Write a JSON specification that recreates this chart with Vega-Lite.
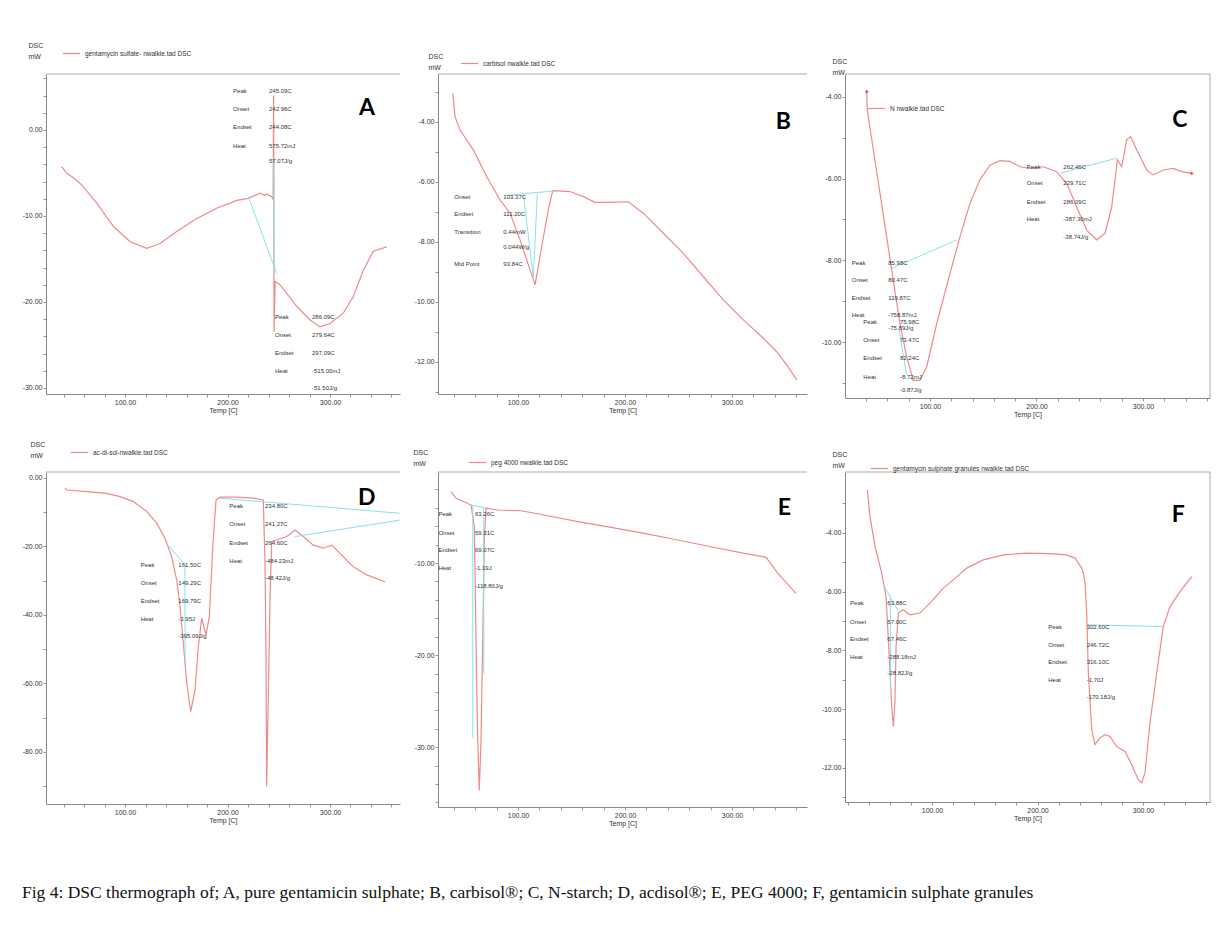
{
"$schema": "https://vega.github.io/schema/vega-lite/v6.json",
"background": "white",
"padding": {"left": 22, "top": 41, "right": 0, "bottom": 0},
"title": {"text": "Fig 4: DSC thermograph of; A, pure gentamicin sulphate; B, carbisol®; C, N-starch; D, acdisol®; E, PEG 4000; F, gentamicin sulphate granules", "orient": "bottom", "anchor": "start", "frame": "group", "font": "Liberation Serif", "fontSize": 17.5, "fontWeight": "normal", "color": "#111", "offset": 58, "dx": -24},
"columns": 3,
"spacing": {"row": 74, "column": 38},
"align": "each",
"bounds": "flush",
"resolve": {"scale": {"color": "independent"}, "legend": {"color": "independent"}},
"datasets": {
"curves": [
{"p":"A","T":38.2,"v":-4.27},{"p":"A","T":43.1,"v":-5.04},{"p":"A","T":50,"v":-5.6},{"p":"A","T":57.8,"v":-6.4},{"p":"A","T":72.4,"v":-8.5},{"p":"A","T":88.6,"v":-11.2},{"p":"A","T":104.9,"v":-13.0},{"p":"A","T":121.2,"v":-13.76},{"p":"A","T":134.1,"v":-13.2},{"p":"A","T":150.4,"v":-11.8},{"p":"A","T":170,"v":-10.3},{"p":"A","T":189.4,"v":-9.1},{"p":"A","T":209,"v":-8.2},{"p":"A","T":220.3,"v":-7.95},{"p":"A","T":231.7,"v":-7.36},{"p":"A","T":236,"v":-7.6},{"p":"A","T":238.2,"v":-7.48},{"p":"A","T":243.1,"v":-7.75},{"p":"A","T":244.5,"v":-8.1},{"p":"A","T":245.0,"v":4.0},{"p":"A","T":245.4,"v":-23.5},{"p":"A","T":246.5,"v":-17.6},{"p":"A","T":251.2,"v":-18.0},{"p":"A","T":257.8,"v":-19.0},{"p":"A","T":267.5,"v":-20.5},{"p":"A","T":280.5,"v":-22.1},{"p":"A","T":290.2,"v":-22.9},{"p":"A","T":300,"v":-22.5},{"p":"A","T":313,"v":-21.3},{"p":"A","T":322.7,"v":-19.4},{"p":"A","T":332.5,"v":-16.3},{"p":"A","T":342.2,"v":-14.1},{"p":"A","T":355.3,"v":-13.6},
{"p":"B","T":39.0,"v":-3.04},{"p":"B","T":41.1,"v":-3.82},{"p":"B","T":45.8,"v":-4.27},{"p":"B","T":58.2,"v":-4.93},{"p":"B","T":70.7,"v":-5.82},{"p":"B","T":83.2,"v":-6.6},{"p":"B","T":92.5,"v":-7.04},{"p":"B","T":101.9,"v":-7.93},{"p":"B","T":111.2,"v":-8.93},{"p":"B","T":115.9,"v":-9.43},{"p":"B","T":122.1,"v":-8.16},{"p":"B","T":128.3,"v":-6.93},{"p":"B","T":132.4,"v":-6.29},{"p":"B","T":148.6,"v":-6.32},{"p":"B","T":161,"v":-6.49},{"p":"B","T":172,"v":-6.68},{"p":"B","T":186,"v":-6.68},{"p":"B","T":203.1,"v":-6.66},{"p":"B","T":217.1,"v":-7.04},{"p":"B","T":235.8,"v":-7.71},{"p":"B","T":254.5,"v":-8.38},{"p":"B","T":273.2,"v":-9.16},{"p":"B","T":291.9,"v":-9.93},{"p":"B","T":310.6,"v":-10.6},{"p":"B","T":329.3,"v":-11.21},{"p":"B","T":341.8,"v":-11.66},{"p":"B","T":351.1,"v":-12.1},{"p":"B","T":360.5,"v":-12.6},
{"p":"C","T":40.6,"v":-3.87},{"p":"C","T":41.1,"v":-4.32},{"p":"C","T":46.8,"v":-5.3},{"p":"C","T":53.1,"v":-6.36},{"p":"C","T":59.3,"v":-7.42},{"p":"C","T":65.5,"v":-8.49},{"p":"C","T":71.8,"v":-9.55},{"p":"C","T":78.1,"v":-10.36},{"p":"C","T":84.3,"v":-10.94},{"p":"C","T":90.6,"v":-10.94},{"p":"C","T":96.9,"v":-10.61},{"p":"C","T":106.3,"v":-9.55},{"p":"C","T":118.8,"v":-8.32},{"p":"C","T":128.2,"v":-7.42},{"p":"C","T":137.6,"v":-6.6},{"p":"C","T":146.9,"v":-6.03},{"p":"C","T":156.3,"v":-5.67},{"p":"C","T":165.7,"v":-5.56},{"p":"C","T":175.1,"v":-5.58},{"p":"C","T":184.5,"v":-5.71},{"p":"C","T":193.9,"v":-5.75},{"p":"C","T":206.4,"v":-5.71},{"p":"C","T":218.9,"v":-5.83},{"p":"C","T":228.4,"v":-6.12},{"p":"C","T":237.7,"v":-6.69},{"p":"C","T":247.1,"v":-7.26},{"p":"C","T":256.5,"v":-7.5},{"p":"C","T":264.3,"v":-7.34},{"p":"C","T":270.6,"v":-6.69},{"p":"C","T":273.7,"v":-6.03},{"p":"C","T":275.9,"v":-5.54},{"p":"C","T":280,"v":-5.71},{"p":"C","T":284.7,"v":-5.05},{"p":"C","T":288.5,"v":-4.97},{"p":"C","T":294.1,"v":-5.3},{"p":"C","T":303.5,"v":-5.79},{"p":"C","T":309.7,"v":-5.91},{"p":"C","T":319.1,"v":-5.79},{"p":"C","T":328.5,"v":-5.75},{"p":"C","T":336.3,"v":-5.83},{"p":"C","T":345.7,"v":-5.87},
{"p":"D","T":41.5,"v":-3.0},{"p":"D","T":43.1,"v":-3.5},{"p":"D","T":62.6,"v":-4.0},{"p":"D","T":82.1,"v":-4.47},{"p":"D","T":95.1,"v":-5.45},{"p":"D","T":108.1,"v":-6.9},{"p":"D","T":121.2,"v":-9.8},{"p":"D","T":130.9,"v":-13.2},{"p":"D","T":139,"v":-17.6},{"p":"D","T":145.5,"v":-23},{"p":"D","T":150.4,"v":-29.8},{"p":"D","T":153.7,"v":-37.6},{"p":"D","T":156.9,"v":-48.3},{"p":"D","T":160.2,"v":-59.9},{"p":"D","T":164.1,"v":-68.2},{"p":"D","T":168.3,"v":-61.9},{"p":"D","T":171.5,"v":-49.3},{"p":"D","T":174.8,"v":-41.0},{"p":"D","T":179,"v":-45.8},{"p":"D","T":182.3,"v":-40.5},{"p":"D","T":185.6,"v":-20},{"p":"D","T":188.8,"v":-6.4},{"p":"D","T":192.7,"v":-5.6},{"p":"D","T":209,"v":-5.6},{"p":"D","T":225.2,"v":-5.9},{"p":"D","T":234.9,"v":-6.4},{"p":"D","T":236.6,"v":-24.9},{"p":"D","T":237.6,"v":-54.1},{"p":"D","T":238.2,"v":-90.1},{"p":"D","T":239.8,"v":-63.8},{"p":"D","T":241.5,"v":-34.7},{"p":"D","T":243.1,"v":-18.6},{"p":"D","T":248,"v":-18.1},{"p":"D","T":257.8,"v":-17.1},{"p":"D","T":265.9,"v":-15.2},{"p":"D","T":274,"v":-17.1},{"p":"D","T":283.7,"v":-19.6},{"p":"D","T":293.4,"v":-20.5},{"p":"D","T":301.6,"v":-19.6},{"p":"D","T":309.8,"v":-22},{"p":"D","T":322.7,"v":-25.9},{"p":"D","T":335.8,"v":-28.3},{"p":"D","T":353.7,"v":-30.3},
{"p":"E","T":37.4,"v":-2.25},{"p":"E","T":42.1,"v":-2.97},{"p":"E","T":49.8,"v":-3.34},{"p":"E","T":56.1,"v":-3.7},{"p":"E","T":59.2,"v":-6.05},{"p":"E","T":60.7,"v":-18.4},{"p":"E","T":62.3,"v":-29.2},{"p":"E","T":63.8,"v":-34.7},{"p":"E","T":65.4,"v":-29.2},{"p":"E","T":67,"v":-18.4},{"p":"E","T":68.5,"v":-7.5},{"p":"E","T":70.1,"v":-4.05},{"p":"E","T":81,"v":-4.24},{"p":"E","T":102.8,"v":-4.32},{"p":"E","T":124.6,"v":-4.78},{"p":"E","T":155.8,"v":-5.51},{"p":"E","T":186.9,"v":-6.12},{"p":"E","T":218,"v":-6.77},{"p":"E","T":249.3,"v":-7.5},{"p":"E","T":280.4,"v":-8.23},{"p":"E","T":311.5,"v":-8.95},{"p":"E","T":331.8,"v":-9.38},{"p":"E","T":342.7,"v":-11.1},{"p":"E","T":359.8,"v":-13.3},
{"p":"F","T":38.7,"v":-2.54},{"p":"F","T":41.2,"v":-3.45},{"p":"F","T":46,"v":-4.47},{"p":"F","T":52.3,"v":-5.37},{"p":"F","T":56.4,"v":-6.17},{"p":"F","T":58.6,"v":-7.64},{"p":"F","T":60.2,"v":-8.77},{"p":"F","T":61.8,"v":-9.91},{"p":"F","T":63.3,"v":-10.59},{"p":"F","T":64.9,"v":-9.68},{"p":"F","T":65.9,"v":-7.87},{"p":"F","T":68.1,"v":-6.73},{"p":"F","T":72.8,"v":-6.62},{"p":"F","T":79.1,"v":-6.79},{"p":"F","T":88.6,"v":-6.73},{"p":"F","T":98.1,"v":-6.39},{"p":"F","T":110.7,"v":-5.88},{"p":"F","T":120.2,"v":-5.6},{"p":"F","T":132.9,"v":-5.2},{"p":"F","T":148.6,"v":-4.92},{"p":"F","T":167.6,"v":-4.75},{"p":"F","T":189.8,"v":-4.69},{"p":"F","T":211.8,"v":-4.71},{"p":"F","T":227.7,"v":-4.75},{"p":"F","T":235.5,"v":-4.86},{"p":"F","T":241.9,"v":-5.2},{"p":"F","T":243.4,"v":-5.37},{"p":"F","T":245,"v":-5.71},{"p":"F","T":246.6,"v":-6.73},{"p":"F","T":248.2,"v":-8.77},{"p":"F","T":251.4,"v":-10.7},{"p":"F","T":254.5,"v":-11.21},{"p":"F","T":259.2,"v":-10.98},{"p":"F","T":264,"v":-10.87},{"p":"F","T":268.7,"v":-10.93},{"p":"F","T":275.1,"v":-11.27},{"p":"F","T":283,"v":-11.44},{"p":"F","T":289.3,"v":-11.89},{"p":"F","T":295.5,"v":-12.4},{"p":"F","T":298.8,"v":-12.51},{"p":"F","T":301.9,"v":-12.17},{"p":"F","T":306.6,"v":-10.47},{"p":"F","T":313,"v":-8.77},{"p":"F","T":319.2,"v":-7.19},{"p":"F","T":325.6,"v":-6.51},{"p":"F","T":335.1,"v":-6.0},{"p":"F","T":346.2,"v":-5.49}
],
"baselines": [
{"p":"A","seg":"a1","T":220.3,"v":-7.75},{"p":"A","seg":"a1","T":248,"v":-16.7},{"p":"A","seg":"a2","T":245.2,"v":-3.1},{"p":"A","seg":"a2","T":245.3,"v":-16},
{"p":"B","seg":"b1","T":87.9,"v":-6.45},{"p":"B","seg":"b1","T":133,"v":-6.3},{"p":"B","seg":"b2","T":105,"v":-6.4},{"p":"B","seg":"b2","T":114.3,"v":-9.2},{"p":"B","seg":"b2","T":118,"v":-6.4},
{"p":"C","seg":"c1","T":64,"v":-8.2},{"p":"C","seg":"c1","T":125,"v":-7.5},{"p":"C","seg":"c2","T":222,"v":-5.87},{"p":"C","seg":"c2","T":275.3,"v":-5.5},{"p":"C","seg":"c3","T":71,"v":-9.7},{"p":"C","seg":"c3","T":78,"v":-10.8},
{"p":"D","seg":"d1","T":192.7,"v":-5.9},{"p":"D","seg":"d1","T":368,"v":-10.3},{"p":"D","seg":"d2","T":265.9,"v":-17.1},{"p":"D","seg":"d2","T":368,"v":-12.3},{"p":"D","seg":"d3","T":140.6,"v":-19.1},{"p":"D","seg":"d3","T":160.2,"v":-25.9},{"p":"D","seg":"d4","T":158.5,"v":-26},{"p":"D","seg":"d4","T":158.6,"v":-53},
{"p":"E","seg":"e1","T":56,"v":-3.7},{"p":"E","seg":"e1","T":70,"v":-4.0},{"p":"E","seg":"e2","T":57.7,"v":-3.7},{"p":"E","seg":"e2","T":57.8,"v":-29},{"p":"E","seg":"e3","T":67.9,"v":-4.0},{"p":"E","seg":"e3","T":68,"v":-22},
{"p":"F","seg":"f1","T":246.6,"v":-7.13},{"p":"F","seg":"f1","T":319.2,"v":-7.19},{"p":"F","seg":"f2","T":54.8,"v":-5.83},{"p":"F","seg":"f2","T":69,"v":-6.73},{"p":"F","seg":"f3","T":60.5,"v":-6.2},{"p":"F","seg":"f3","T":60.6,"v":-9.3}
],
"notes": [
{"p":"A","T":205.4,"v":4.53,"label":"Peak"},{"p":"A","T":205.4,"v":2.44,"label":"Onset"},{"p":"A","T":205.4,"v":0.35,"label":"Endset"},{"p":"A","T":205.4,"v":-1.86,"label":"Heat"},
{"p":"A","T":240.5,"v":4.53,"label":"245.09C"},{"p":"A","T":240.5,"v":2.44,"label":"242.96C"},{"p":"A","T":240.5,"v":0.35,"label":"244.08C"},{"p":"A","T":240.5,"v":-1.86,"label":"575.72mJ"},{"p":"A","T":240.5,"v":-3.6,"label":"57.07J/g"},
{"p":"A","T":246.3,"v":-21.74,"label":"Peak"},{"p":"A","T":246.3,"v":-23.84,"label":"Onset"},{"p":"A","T":246.3,"v":-25.93,"label":"Endset"},{"p":"A","T":246.3,"v":-28.02,"label":"Heat"},
{"p":"A","T":282.4,"v":-21.74,"label":"286.09C"},{"p":"A","T":282.4,"v":-23.84,"label":"279.64C"},{"p":"A","T":282.4,"v":-25.93,"label":"297.09C"},{"p":"A","T":282.4,"v":-28.02,"label":"-515.00mJ"},{"p":"A","T":282.4,"v":-30.0,"label":"-51.50J/g"},
{"p":"B","T":40.5,"v":-6.49,"label":"Onset"},{"p":"B","T":40.5,"v":-7.07,"label":"Endset"},{"p":"B","T":40.5,"v":-7.68,"label":"Transition"},{"p":"B","T":40.5,"v":-8.74,"label":"Mid Point"},
{"p":"B","T":86.3,"v":-6.49,"label":"103.37C"},{"p":"B","T":86.3,"v":-7.07,"label":"111.20C"},{"p":"B","T":86.3,"v":-7.68,"label":"0.44mW"},{"p":"B","T":86.3,"v":-8.18,"label":"0.044W/g"},{"p":"B","T":86.3,"v":-8.74,"label":"93.84C"},
{"p":"C","T":190.8,"v":-5.71,"label":"Peak"},{"p":"C","T":190.8,"v":-6.12,"label":"Onset"},{"p":"C","T":190.8,"v":-6.57,"label":"Endset"},{"p":"C","T":190.8,"v":-7.0,"label":"Heat"},
{"p":"C","T":225.2,"v":-5.71,"label":"262.46C"},{"p":"C","T":225.2,"v":-6.12,"label":"229.71C"},{"p":"C","T":225.2,"v":-6.57,"label":"286.09C"},{"p":"C","T":225.2,"v":-7.0,"label":"-387.30mJ"},{"p":"C","T":225.2,"v":-7.42,"label":"-38.74J/g"},
{"p":"C","T":26.5,"v":-8.06,"label":"Peak"},{"p":"C","T":26.5,"v":-8.49,"label":"Onset"},{"p":"C","T":26.5,"v":-8.92,"label":"Endset"},{"p":"C","T":26.5,"v":-9.34,"label":"Heat"},
{"p":"C","T":60.8,"v":-8.06,"label":"85.98C"},{"p":"C","T":60.8,"v":-8.49,"label":"80.47C"},{"p":"C","T":60.8,"v":-8.92,"label":"119.87C"},{"p":"C","T":60.8,"v":-9.34,"label":"-758.87mJ"},{"p":"C","T":60.8,"v":-9.66,"label":"-75.89J/g"},
{"p":"C","T":37.4,"v":-9.51,"label":"Peak"},{"p":"C","T":37.4,"v":-9.96,"label":"Onset"},{"p":"C","T":37.4,"v":-10.4,"label":"Endset"},{"p":"C","T":37.4,"v":-10.86,"label":"Heat"},
{"p":"C","T":71.8,"v":-9.51,"label":"75.98C"},{"p":"C","T":71.8,"v":-9.96,"label":"73.47C"},{"p":"C","T":71.8,"v":-10.4,"label":"82.24C"},{"p":"C","T":71.8,"v":-10.86,"label":"-8.72mJ"},{"p":"C","T":71.8,"v":-11.18,"label":"-0.87J/g"},
{"p":"D","T":115.3,"v":-25.4,"label":"Peak"},{"p":"D","T":115.3,"v":-30.6,"label":"Onset"},{"p":"D","T":115.3,"v":-35.8,"label":"Endset"},{"p":"D","T":115.3,"v":-41.1,"label":"Heat"},
{"p":"D","T":152,"v":-25.4,"label":"161.50C"},{"p":"D","T":152,"v":-30.6,"label":"149.29C"},{"p":"D","T":152,"v":-35.8,"label":"169.79C"},{"p":"D","T":152,"v":-41.1,"label":"-3.95J"},{"p":"D","T":152,"v":-46.1,"label":"-395.09J/g"},
{"p":"D","T":201.8,"v":-8.18,"label":"Peak"},{"p":"D","T":201.8,"v":-13.5,"label":"Onset"},{"p":"D","T":201.8,"v":-18.9,"label":"Endset"},{"p":"D","T":201.8,"v":-24.2,"label":"Heat"},
{"p":"D","T":236.6,"v":-8.18,"label":"234.80C"},{"p":"D","T":236.6,"v":-13.5,"label":"241.27C"},{"p":"D","T":236.6,"v":-18.9,"label":"264.60C"},{"p":"D","T":236.6,"v":-24.2,"label":"-484.23mJ"},{"p":"D","T":236.6,"v":-29.1,"label":"-48.42J/g"},
{"p":"E","T":25.6,"v":-4.67,"label":"Peak"},{"p":"E","T":25.6,"v":-6.7,"label":"Onset"},{"p":"E","T":25.6,"v":-8.59,"label":"Endset"},{"p":"E","T":25.6,"v":-10.58,"label":"Heat"},
{"p":"E","T":59.8,"v":-4.67,"label":"63.26C"},{"p":"E","T":59.8,"v":-6.7,"label":"59.31C"},{"p":"E","T":59.8,"v":-8.59,"label":"69.07C"},{"p":"E","T":59.8,"v":-10.58,"label":"-1.19J"},{"p":"E","T":59.8,"v":-12.47,"label":"-118.80J/g"},
{"p":"F","T":22.3,"v":-6.39,"label":"Peak"},{"p":"F","T":22.3,"v":-7.02,"label":"Onset"},{"p":"F","T":22.3,"v":-7.62,"label":"Endset"},{"p":"F","T":22.3,"v":-8.23,"label":"Heat"},
{"p":"F","T":57.6,"v":-6.39,"label":"63.88C"},{"p":"F","T":57.6,"v":-7.02,"label":"57.00C"},{"p":"F","T":57.6,"v":-7.62,"label":"67.46C"},{"p":"F","T":57.6,"v":-8.23,"label":"-288.18mJ"},{"p":"F","T":57.6,"v":-8.77,"label":"-28.82J/g"},
{"p":"F","T":210.2,"v":-7.21,"label":"Peak"},{"p":"F","T":210.2,"v":-7.81,"label":"Onset"},{"p":"F","T":210.2,"v":-8.41,"label":"Endset"},{"p":"F","T":210.2,"v":-9.02,"label":"Heat"},
{"p":"F","T":246.6,"v":-7.21,"label":"302.60C"},{"p":"F","T":246.6,"v":-7.81,"label":"246.72C"},{"p":"F","T":246.6,"v":-8.41,"label":"316.10C"},{"p":"F","T":246.6,"v":-9.02,"label":"-1.70J"},{"p":"F","T":246.6,"v":-9.59,"label":"-170.18J/g"}
],
"tags": [
{"p":"A","T":336.1,"v":2.56},{"p":"B","T":347.9,"v":-3.99},{"p":"C","T":334.7,"v":-4.56},{"p":"D","T":335.8,"v":-5.9},{"p":"E","T":348.9,"v":-4.05},{"p":"F","T":333.5,"v":-3.39}
],
"markers": [
{"p":"C","T":40.6,"v":-3.87},{"p":"C","T":345.7,"v":-5.87}
]
},
"concat": [
{"width": 354, "height": 320, "resolve": {"axis": {"x": "independent", "y": "independent"}}, "layer": [
 {"data": {"name": "curves"}, "transform": [{"filter": "datum.p === 'A'"}], "mark": {"type": "line", "strokeWidth": 1.2},
  "encoding": {
   "x": {"field": "T", "type": "quantitative", "scale": {"domain": [22.9, 368.3], "nice": false, "zero": false}, "axis": {"values": [40,60,80,100,120,140,160,180,200,220,240,260,280,300,320,340,360], "labelExpr": "datum.value % 100 === 0 ? format(datum.value, '.2f') : ''", "title": "Temp [C]"}},
   "y": {"field": "v", "type": "quantitative", "scale": {"domain": [-30.7, 6.5], "nice": false, "zero": false}, "axis": {"values": [-30,-28,-26,-24,-22,-20,-18,-16,-14,-12,-10,-8,-6,-4,-2,0,2,4,6], "labelExpr": "datum.value % 10 === 0 ? replace(format(datum.value, '.2f'), '−', '-') : ''", "title": ["DSC", "mW"], "titleX": -18, "titleY": -33}},
   "color": {"datum": "gentamycin sulfate- nwalkle.tad DSC", "scale": {"range": ["#ef8a8a"]}, "legend": {"title": null, "orient": "none", "legendX": 16, "legendY": -30}}}},
 {"data": {"name": "baselines"}, "transform": [{"filter": "datum.p === 'A'"}], "mark": {"type": "line", "color": "#86e3ea", "strokeWidth": 1},
  "encoding": {"x": {"field": "T", "type": "quantitative", "axis": null}, "y": {"field": "v", "type": "quantitative", "axis": null}, "detail": {"field": "seg"}}},
 {"data": {"name": "notes"}, "transform": [{"filter": "datum.p === 'A'"}], "mark": {"type": "text", "align": "left", "baseline": "middle", "fontSize": 6, "color": "#333"},
  "encoding": {"x": {"field": "T", "type": "quantitative", "axis": null}, "y": {"field": "v", "type": "quantitative", "axis": null}, "text": {"field": "label"}}},
 {"data": {"name": "tags"}, "transform": [{"filter": "datum.p === 'A'"}], "mark": {"type": "text", "font": "Lato", "fontSize": 23, "fontWeight": "bold", "color": "#000"},
  "encoding": {"x": {"field": "T", "type": "quantitative", "axis": null}, "y": {"field": "v", "type": "quantitative", "axis": null}, "text": {"field": "p"}}},
 {"data": {"values": [{}]}, "mark": {"type": "rule", "color": "#aaa"}, "encoding": {"y": {"datum": 6.5, "type": "quantitative", "axis": null}}}
]},
{"width": 369, "height": 320, "resolve": {"axis": {"x": "independent", "y": "independent"}}, "layer": [
 {"data": {"name": "curves"}, "transform": [{"filter": "datum.p === 'B'"}], "mark": {"type": "line", "strokeWidth": 1.2},
  "encoding": {
   "x": {"field": "T", "type": "quantitative", "scale": {"domain": [25.2, 370.1], "nice": false, "zero": false}, "axis": {"values": [40,60,80,100,120,140,160,180,200,220,240,260,280,300,320,340,360], "labelExpr": "datum.value % 100 === 0 ? format(datum.value, '.2f') : ''", "title": "Temp [C]"}},
   "y": {"field": "v", "type": "quantitative", "scale": {"domain": [-13.07, -2.4], "nice": false, "zero": false}, "axis": {"values": [-13,-12,-11,-10,-9,-8,-7,-6,-5,-4,-3], "labelExpr": "datum.value % 2 === 0 ? replace(format(datum.value, '.2f'), '−', '-') : ''", "title": ["DSC", "mW"], "titleX": -10, "titleY": -22}},
   "color": {"datum": "carbisol nwalkle.tad DSC", "scale": {"range": ["#ef8a8a"]}, "legend": {"title": null, "orient": "none", "legendX": 22, "legendY": -20}}}},
 {"data": {"name": "baselines"}, "transform": [{"filter": "datum.p === 'B'"}], "mark": {"type": "line", "color": "#86e3ea", "strokeWidth": 1},
  "encoding": {"x": {"field": "T", "type": "quantitative", "axis": null}, "y": {"field": "v", "type": "quantitative", "axis": null}, "detail": {"field": "seg"}}},
 {"data": {"name": "notes"}, "transform": [{"filter": "datum.p === 'B'"}], "mark": {"type": "text", "align": "left", "baseline": "middle", "fontSize": 6, "color": "#333"},
  "encoding": {"x": {"field": "T", "type": "quantitative", "axis": null}, "y": {"field": "v", "type": "quantitative", "axis": null}, "text": {"field": "label"}}},
 {"data": {"name": "tags"}, "transform": [{"filter": "datum.p === 'B'"}], "mark": {"type": "text", "font": "Lato", "fontSize": 23, "fontWeight": "bold", "color": "#000"},
  "encoding": {"x": {"field": "T", "type": "quantitative", "axis": null}, "y": {"field": "v", "type": "quantitative", "axis": null}, "text": {"field": "p"}}},
 {"data": {"values": [{}]}, "mark": {"type": "rule", "color": "#aaa"}, "encoding": {"y": {"datum": -2.4, "type": "quantitative", "axis": null}}}
]},
{"width": 365, "height": 324, "resolve": {"axis": {"x": "independent", "y": "independent"}}, "layer": [
 {"data": {"name": "curves"}, "transform": [{"filter": "datum.p === 'C'"}], "mark": {"type": "line", "strokeWidth": 1.2},
  "encoding": {
   "x": {"field": "T", "type": "quantitative", "scale": {"domain": [20.2, 362.9], "nice": false, "zero": false}, "axis": {"values": [40,60,80,100,120,140,160,180,200,220,240,260,280,300,320,340,360], "labelExpr": "datum.value % 100 === 0 ? format(datum.value, '.2f') : ''", "title": "Temp [C]"}},
   "y": {"field": "v", "type": "quantitative", "scale": {"domain": [-11.37, -3.44], "nice": false, "zero": false}, "axis": {"values": [-11,-10,-9,-8,-7,-6,-5,-4], "labelExpr": "datum.value % 2 === 0 ? replace(format(datum.value, '.2f'), '−', '-') : ''", "title": ["DSC", "mW"], "titleX": -13, "titleY": -17}},
   "color": {"datum": "N nwalkle.tad DSC", "scale": {"range": ["#ef8a8a"]}, "legend": {"title": null, "orient": "none", "legendX": 22, "legendY": 25}}}},
 {"data": {"name": "baselines"}, "transform": [{"filter": "datum.p === 'C'"}], "mark": {"type": "line", "color": "#86e3ea", "strokeWidth": 1},
  "encoding": {"x": {"field": "T", "type": "quantitative", "axis": null}, "y": {"field": "v", "type": "quantitative", "axis": null}, "detail": {"field": "seg"}}},
 {"data": {"name": "markers"}, "transform": [{"filter": "datum.p === 'C'"}], "mark": {"type": "point", "shape": "diamond", "filled": true, "size": 14, "color": "#e02020"},
  "encoding": {"x": {"field": "T", "type": "quantitative", "axis": null}, "y": {"field": "v", "type": "quantitative", "axis": null}}},
 {"data": {"name": "notes"}, "transform": [{"filter": "datum.p === 'C'"}], "mark": {"type": "text", "align": "left", "baseline": "middle", "fontSize": 6, "color": "#333"},
  "encoding": {"x": {"field": "T", "type": "quantitative", "axis": null}, "y": {"field": "v", "type": "quantitative", "axis": null}, "text": {"field": "label"}}},
 {"data": {"name": "tags"}, "transform": [{"filter": "datum.p === 'C'"}], "mark": {"type": "text", "font": "Lato", "fontSize": 23, "fontWeight": "bold", "color": "#000"},
  "encoding": {"x": {"field": "T", "type": "quantitative", "axis": null}, "y": {"field": "v", "type": "quantitative", "axis": null}, "text": {"field": "p"}}},
 {"data": {"values": [{}]}, "mark": {"type": "rule", "color": "#aaa"}, "encoding": {"y": {"datum": -3.44, "type": "quantitative", "axis": null}}},
 {"data": {"values": [{}]}, "mark": {"type": "rule", "color": "#aaa"}, "encoding": {"x": {"datum": 362.9, "type": "quantitative", "axis": null}}}
]},
{"width": 354, "height": 332, "resolve": {"axis": {"x": "independent", "y": "independent"}}, "layer": [
 {"data": {"name": "curves"}, "transform": [{"filter": "datum.p === 'D'"}], "mark": {"type": "line", "strokeWidth": 1.2},
  "encoding": {
   "x": {"field": "T", "type": "quantitative", "scale": {"domain": [22.9, 368.3], "nice": false, "zero": false}, "axis": {"values": [40,60,80,100,120,140,160,180,200,220,240,260,280,300,320,340,360], "labelExpr": "datum.value % 100 === 0 ? format(datum.value, '.2f') : ''", "title": "Temp [C]"}},
   "y": {"field": "v", "type": "quantitative", "scale": {"domain": [-95.2, 1.75], "nice": false, "zero": false}, "axis": {"values": [-90,-80,-70,-60,-50,-40,-30,-20,-10,0], "labelExpr": "datum.value % 20 === 0 ? replace(format(datum.value, '.2f'), '−', '-') : ''", "title": ["DSC", "mW"], "titleX": -16, "titleY": -32}},
   "color": {"datum": "ac-di-sol-nwalkle.tad DSC", "scale": {"range": ["#ef8a8a"]}, "legend": {"title": null, "orient": "none", "legendX": 24, "legendY": -29}}}},
 {"data": {"name": "baselines"}, "transform": [{"filter": "datum.p === 'D'"}], "mark": {"type": "line", "color": "#86e3ea", "strokeWidth": 1},
  "encoding": {"x": {"field": "T", "type": "quantitative", "axis": null}, "y": {"field": "v", "type": "quantitative", "axis": null}, "detail": {"field": "seg"}}},
 {"data": {"name": "notes"}, "transform": [{"filter": "datum.p === 'D'"}], "mark": {"type": "text", "align": "left", "baseline": "middle", "fontSize": 6, "color": "#333"},
  "encoding": {"x": {"field": "T", "type": "quantitative", "axis": null}, "y": {"field": "v", "type": "quantitative", "axis": null}, "text": {"field": "label"}}},
 {"data": {"name": "tags"}, "transform": [{"filter": "datum.p === 'D'"}], "mark": {"type": "text", "font": "Lato", "fontSize": 23, "fontWeight": "bold", "color": "#000"},
  "encoding": {"x": {"field": "T", "type": "quantitative", "axis": null}, "y": {"field": "v", "type": "quantitative", "axis": null}, "text": {"field": "p"}}},
 {"data": {"values": [{}]}, "mark": {"type": "rule", "color": "#aaa"}, "encoding": {"y": {"datum": 1.75, "type": "quantitative", "axis": null}}}
]},
{"width": 369, "height": 335, "resolve": {"axis": {"x": "independent", "y": "independent"}}, "layer": [
 {"data": {"name": "curves"}, "transform": [{"filter": "datum.p === 'E'"}], "mark": {"type": "line", "strokeWidth": 1.2},
  "encoding": {
   "x": {"field": "T", "type": "quantitative", "scale": {"domain": [25.2, 370.1], "nice": false, "zero": false}, "axis": {"values": [40,60,80,100,120,140,160,180,200,220,240,260,280,300,320,340,360], "labelExpr": "datum.value % 100 === 0 ? format(datum.value, '.2f') : ''", "title": "Temp [C]"}},
   "y": {"field": "v", "type": "quantitative", "scale": {"domain": [-36.5, -0.11], "nice": false, "zero": false}, "axis": {"values": [-36,-34,-32,-30,-28,-26,-24,-22,-20,-18,-16,-14,-12,-10,-8,-6,-4,-2], "labelExpr": "datum.value % 10 === 0 ? replace(format(datum.value, '.2f'), '−', '-') : ''", "title": ["DSC", "mW"], "titleX": -25, "titleY": -24}},
   "color": {"datum": "peg 4000 nwalkle.tad DSC", "scale": {"range": ["#ef8a8a"]}, "legend": {"title": null, "orient": "none", "legendX": 30, "legendY": -19}}}},
 {"data": {"name": "baselines"}, "transform": [{"filter": "datum.p === 'E'"}], "mark": {"type": "line", "color": "#86e3ea", "strokeWidth": 1},
  "encoding": {"x": {"field": "T", "type": "quantitative", "axis": null}, "y": {"field": "v", "type": "quantitative", "axis": null}, "detail": {"field": "seg"}}},
 {"data": {"name": "notes"}, "transform": [{"filter": "datum.p === 'E'"}], "mark": {"type": "text", "align": "left", "baseline": "middle", "fontSize": 6, "color": "#333"},
  "encoding": {"x": {"field": "T", "type": "quantitative", "axis": null}, "y": {"field": "v", "type": "quantitative", "axis": null}, "text": {"field": "label"}}},
 {"data": {"name": "tags"}, "transform": [{"filter": "datum.p === 'E'"}], "mark": {"type": "text", "font": "Lato", "fontSize": 23, "fontWeight": "bold", "color": "#000"},
  "encoding": {"x": {"field": "T", "type": "quantitative", "axis": null}, "y": {"field": "v", "type": "quantitative", "axis": null}, "text": {"field": "p"}}},
 {"data": {"values": [{}]}, "mark": {"type": "rule", "color": "#aaa"}, "encoding": {"y": {"datum": -0.11, "type": "quantitative", "axis": null}}}
]},
{"width": 365, "height": 330, "resolve": {"axis": {"x": "independent", "y": "independent"}}, "layer": [
 {"data": {"name": "curves"}, "transform": [{"filter": "datum.p === 'F'"}], "mark": {"type": "line", "strokeWidth": 1.2},
  "encoding": {
   "x": {"field": "T", "type": "quantitative", "scale": {"domain": [17.5, 363.5], "nice": false, "zero": false}, "axis": {"values": [20,40,60,80,100,120,140,160,180,200,220,240,260,280,300,320,340,360], "labelExpr": "datum.value % 100 === 0 ? format(datum.value, '.2f') : ''", "title": "Temp [C]"}},
   "y": {"field": "v", "type": "quantitative", "scale": {"domain": [-13.16, -1.93], "nice": false, "zero": false}, "axis": {"values": [-13,-12,-11,-10,-9,-8,-7,-6,-5,-4,-3], "labelExpr": "datum.value % 2 === 0 ? replace(format(datum.value, '.2f'), '−', '-') : ''", "title": ["DSC", "mW"], "titleX": -13, "titleY": -22}},
   "color": {"datum": "gentamycin sulphate granules nwalkle.tad DSC", "scale": {"range": ["#ef8a8a"]}, "legend": {"title": null, "orient": "none", "legendX": 25, "legendY": -13}}}},
 {"data": {"name": "baselines"}, "transform": [{"filter": "datum.p === 'F'"}], "mark": {"type": "line", "color": "#86e3ea", "strokeWidth": 1},
  "encoding": {"x": {"field": "T", "type": "quantitative", "axis": null}, "y": {"field": "v", "type": "quantitative", "axis": null}, "detail": {"field": "seg"}}},
 {"data": {"name": "notes"}, "transform": [{"filter": "datum.p === 'F'"}], "mark": {"type": "text", "align": "left", "baseline": "middle", "fontSize": 6, "color": "#333"},
  "encoding": {"x": {"field": "T", "type": "quantitative", "axis": null}, "y": {"field": "v", "type": "quantitative", "axis": null}, "text": {"field": "label"}}},
 {"data": {"name": "tags"}, "transform": [{"filter": "datum.p === 'F'"}], "mark": {"type": "text", "font": "Lato", "fontSize": 23, "fontWeight": "bold", "color": "#000"},
  "encoding": {"x": {"field": "T", "type": "quantitative", "axis": null}, "y": {"field": "v", "type": "quantitative", "axis": null}, "text": {"field": "p"}}},
 {"data": {"values": [{}]}, "mark": {"type": "rule", "color": "#aaa"}, "encoding": {"y": {"datum": -1.93, "type": "quantitative", "axis": null}}},
 {"data": {"values": [{}]}, "mark": {"type": "rule", "color": "#aaa"}, "encoding": {"x": {"datum": 363.5, "type": "quantitative", "axis": null}}}
]}
],
"config": {
 "view": {"stroke": null},
 "font": "Liberation Sans",
 "axis": {"labelFont": "Liberation Sans", "labelFontSize": 7, "labelColor": "#333", "domainColor": "#888", "tickColor": "#999", "tickSize": 3, "labelPadding": 1, "grid": false, "titleFont": "Liberation Sans", "titleFontSize": 7, "titleFontWeight": "normal", "titleColor": "#333"},
 "axisX": {"titlePadding": 1, "labelAngle": 0},
 "axisY": {"titleAngle": 0, "titleAlign": "left", "titleBaseline": "top", "titleLineHeight": 11},
 "legend": {"symbolType": "stroke", "symbolStrokeWidth": 1.2, "symbolSize": 300, "labelFont": "Liberation Sans", "labelFontSize": 6.5, "labelColor": "#333", "padding": 0, "labelOffset": 4},
 "text": {"font": "Liberation Sans"}
}
}
